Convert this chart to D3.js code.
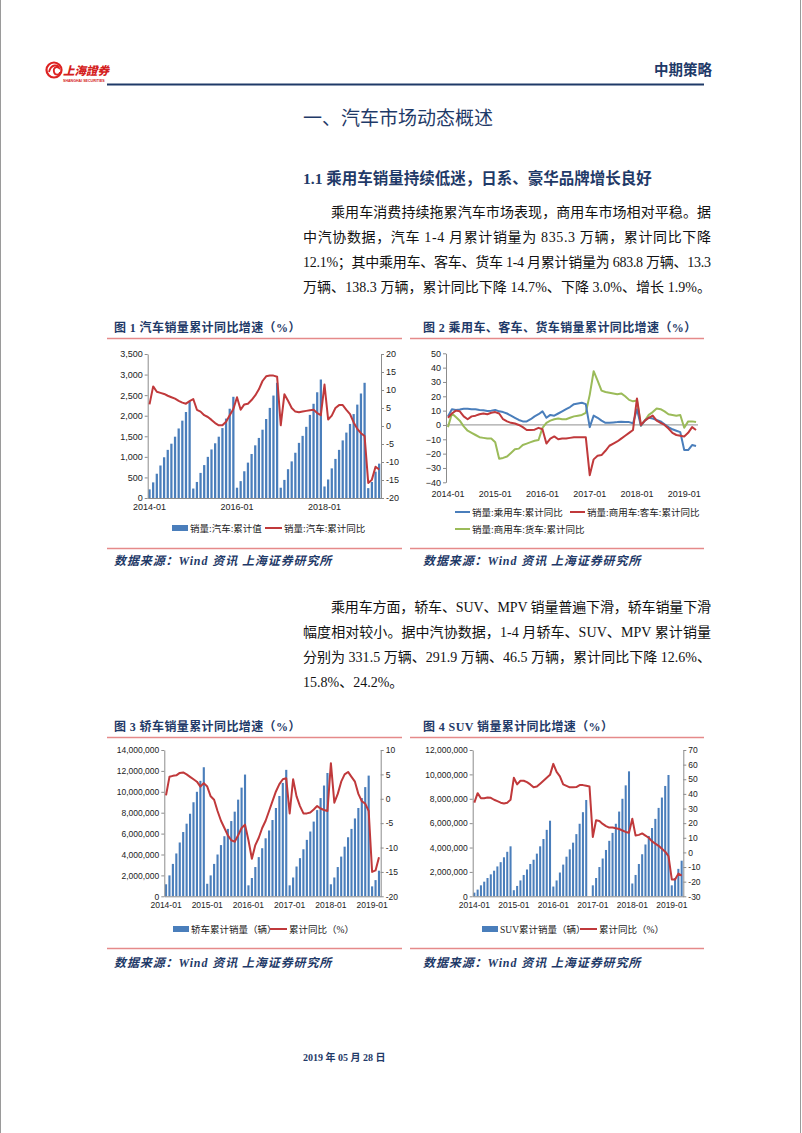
<!DOCTYPE html>
<html><head><meta charset="utf-8">
<script src="https://cdn.jsdelivr.net/npm/d3@7"></script>
<style>
html,body{margin:0;padding:0;background:#fff;}
svg{display:block;}
</style></head>
<body>
<svg id="page" width="802" height="1133"></svg>
<script>
// ---------- categories ----------
function monthList(n){const a=[];for(let i=0;i<n;i++){const y=2014+Math.floor(i/12),m=i%12+1;a.push(y+"-"+(m<10?"0":"")+m);}return a;}
const months64 = monthList(64); // 2014-01 .. 2019-04
const months63 = monthList(63); // 2014-01 .. 2019-03

// ---------- Chart 1: 汽车 ----------
const autoCum = [210,380,590,790,990,1170,1320,1490,1690,1880,2090,2350,
 230,390,610,800,1000,1180,1330,1490,1700,1930,2170,2460,
 250,410,650,860,1070,1280,1460,1660,1920,2190,2490,2800,
 250,440,700,890,1100,1340,1510,1730,2020,2290,2570,2880,
 280,450,720,950,1170,1400,1590,1800,2040,2270,2540,2800,
 240,390,640,835];
const autoYoy = [6,11,9.5,9.2,8.9,8.4,8.0,7.6,7.0,6.5,6.2,6.9,
 7.5,4.5,4.0,3.0,2.5,1.7,0.8,0.2,0.2,1.2,3.0,4.7,
 8.0,4.5,6.0,6.2,7.2,8.5,10.2,12.5,13.8,14.0,14.0,13.7,
 0.2,8.8,7.0,5.0,4.0,3.8,4.0,4.2,4.4,4.5,3.6,3.0,
 11.5,1.8,2.9,5.0,5.8,5.8,4.5,3.3,1.0,-0.8,-2.0,-2.8,
 -15.8,-14.9,-11.3,-12.1];
const c1LeftTicks = [0,500,1000,1500,2000,2500,3000,3500];
const c1RightTicks = [-20,-15,-10,-5,0,5,10,15,20];
const c1XLabels = ["2014-01","2016-01","2018-01"];
const c1Legend = ["销量:汽车:累计值","销量:汽车:累计同比"];

// ---------- Chart 2: 乘用车/客车/货车 ----------
const passYoy = [6,11,10.5,10.8,11.3,11.3,11,11,10.5,10.2,9.8,10,
 10.5,9.5,9,8,6.5,5,3.5,2.5,2.5,4,6,7.5,
 9.5,5,7,6.5,8,9.5,11,12.5,14.5,15,15.5,14.5,
 -1.5,6.5,5,3,1.5,1.5,1.8,2,2.3,2,2,1.2,
 11,-0.5,3,5,4.5,3.5,2.5,0.5,-1.5,-3,-4,-5,
 -17.5,-17.5,-14,-14.7];
const busYoy = [5,8,10,9.5,6,4,6,6.5,7.5,8,7.5,8.5,
 9,8,4,2.5,1.5,1,0,-1.5,-3.5,-3.5,-3.3,-2,
 -3,-13,-9.5,-8,-10,-9.5,-9.5,-9,-8.5,-8.5,-8.5,-8.5,
 -35,-24,-21.5,-21,-18,-14.5,-13,-11.5,-9.5,-7.5,-5.5,-3.5,
 18.5,0,3,5,6.5,3,1.5,0,-2.5,-5.5,-7,-7.5,
 -8,-5.5,-1.5,-3.5];
const truckYoy = [-1.5,8,5.5,3,-1,-4,-5.5,-7,-8.5,-9,-9.5,-9.5,
 -12,-23.5,-23,-22,-19.5,-17,-16.5,-14,-13,-12,-11,-10.5,
 -2,1.5,3,4,4.5,4,4,5,6,6.5,7,8.5,
 21,37.5,31,24,23,22.5,22,21.5,22,20,17.5,16.5,
 17,-0.5,3,7,9,11.5,11,9.5,7.5,7,6.5,7,
 -2,2.5,2.5,2];
const c2Ticks = [-40,-30,-20,-10,0,10,20,30,40,50];
const c2XLabels = ["2014-01","2015-01","2016-01","2017-01","2018-01","2019-01"];
const c2Legend = ["销量:乘用车:累计同比","销量:商用车:客车:累计同比","销量:商用车:货车:累计同比"];

// ---------- Chart 3: 轿车 ----------
const sedanCum = [1150000,2000000,3100000,4100000,5150000,6150000,6950000,7900000,9000000,10000000,11050000,12350000,
 1200000,2000000,3100000,4000000,4900000,5750000,6450000,7200000,8100000,9250000,10400000,11650000,
 1050000,1750000,2800000,3750000,4600000,5550000,6300000,7300000,8450000,9600000,10850000,12100000,
 1050000,1800000,2850000,3650000,4500000,5400000,6200000,7150000,8250000,9400000,10600000,11800000,
 1150000,1800000,2800000,3800000,4750000,5650000,6450000,7450000,8450000,9400000,10450000,11550000,
 950000,1550000,2450000];
const sedanYoy = [0.7,4.5,4.7,4.8,5.3,5.4,5.0,4.5,4.0,3.5,2.5,3.2,
 2.5,0.5,-0.2,-2.5,-4.5,-6.0,-7.5,-8.5,-8.8,-7.5,-6.0,-5.3,
 -8.5,-12.3,-9.5,-8.0,-6.0,-4.5,-2.5,-0.5,1.5,3.0,4.0,4.2,
 -3.0,4.0,0.5,-1.5,-3.0,-3.0,-2.8,-2.2,-1.5,-2.0,-2.3,-2.5,
 7.3,-0.8,1.0,3.5,5.0,5.5,4.5,3.5,1.0,-0.5,-1.0,-2.5,
 -15.0,-14.7,-12.0];
const c3LeftTicks = [0,2000000,4000000,6000000,8000000,10000000,12000000,14000000];
const c3RightTicks = [-20,-15,-10,-5,0,5,10];
const c3XLabels = ["2014-01","2015-01","2016-01","2017-01","2018-01","2019-01"];
const c3Legend = ["轿车累计销量（辆）","累计同比（%）"];

// ---------- Chart 4: SUV ----------
const suvCum = [300000,550000,900000,1200000,1500000,1800000,2100000,2450000,2800000,3200000,3650000,4100000,
 500000,850000,1300000,1750000,2200000,2650000,3000000,3500000,4100000,4700000,5450000,6200000,
 800000,1300000,1950000,2600000,3250000,3850000,4400000,5100000,5950000,6900000,7900000,null,
 900000,1500000,2400000,3100000,3800000,4550000,5200000,5950000,6950000,8000000,9100000,10250000,
 1050000,1750000,2650000,3450000,4250000,4950000,5600000,6350000,7250000,8100000,9050000,9950000,
 900000,1500000,2250000,2920000];
const suvYoy = [34,40.5,37,37,37.5,37.3,36,35,34,33.5,34,36,
 51,46.5,49,49,48,46.5,44.5,45,47,49,51,53,
 60.5,55,52,46.5,45.5,44.5,44.5,44.7,46,46,45.5,45,
 10.5,22,21.5,19.5,18,17,17,16.5,16,15,14,13.5,
 23,11.5,12,13,11.5,10,7.5,6,4.5,2.5,0.5,-2.5,
 -18.5,-18.5,-14.5,-15.8];
const c4LeftTicks = [0,2000000,4000000,6000000,8000000,10000000,12000000];
const c4RightTicks = [-30,-20,-10,0,10,20,30,40,50,60,70];
const c4XLabels = ["2014-01","2015-01","2016-01","2017-01","2018-01","2019-01"];
const c4Legend = ["SUV累计销量（辆）","累计同比（%）"];

// ---------- page text ----------
const headerRight = "中期策略";
const sectionTitle = "一、汽车市场动态概述";
const subTitle = "1.1 乘用车销量持续低迷，日系、豪华品牌增长良好";
const para1 = ["乘用车消费持续拖累汽车市场表现，商用车市场相对平稳。据",
 "中汽协数据，汽车 1-4 月累计销量为 835.3 万辆，累计同比下降",
 "12.1%；其中乘用车、客车、货车 1-4 月累计销量为 683.8 万辆、13.3",
 "万辆、138.3 万辆，累计同比下降 14.7%、下降 3.0%、增长 1.9%。"];
const para2 = ["乘用车方面，轿车、SUV、MPV 销量普遍下滑，轿车销量下滑",
 "幅度相对较小。据中汽协数据，1-4 月轿车、SUV、MPV 累计销量",
 "分别为 331.5 万辆、291.9 万辆、46.5 万辆，累计同比下降 12.6%、",
 "15.8%、24.2%。"];
const figTitles = ["图 1 汽车销量累计同比增速（%）","图 2 乘用车、客车、货车销量累计同比增速（%）",
 "图 3 轿车销量累计同比增速（%）","图 4 SUV 销量累计同比增速（%）"];
const sourceText = "数据来源：Wind 资讯  上海证券研究所";
const dateText = "2019 年 05 月 28 日";

// ---------- styles ----------
const NAVY = "#1f3a68";
const BAR = "#4a7ebb";
const RED = "#c0393b";
const BLUE = "#4a7ebb";
const GREEN = "#9bbb59";
const AXIS = "#8c8c8c";
const SERIF = "'Liberation Serif','Noto Sans CJK SC',serif";
const SANS = "'Liberation Sans','Noto Sans CJK SC',sans-serif";
const CJK = "'Noto Sans CJK SC',sans-serif";

const svg = d3.select("#page");
svg.append("rect").attr("width",802).attr("height",1133).attr("fill","#fff");
// page border
svg.append("line").attr("x1",0.5).attr("x2",0.5).attr("y1",0).attr("y2",1133).attr("stroke","#9a9a9a");
svg.append("line").attr("x1",800.5).attr("x2",800.5).attr("y1",0).attr("y2",1133).attr("stroke","#9a9a9a");

// ---------- header ----------
const logo = svg.append("g");
logo.append("circle").attr("cx",54).attr("cy",70).attr("r",7.5).attr("fill","none").attr("stroke","#d22").attr("stroke-width",2.2);
logo.append("path").attr("d","M49,72 C51,64 58,64 59,68 C56,66 53,68 54,72 C55,76 60,75 60,72").attr("fill","none").attr("stroke","#d22").attr("stroke-width",1.8);
logo.append("text").attr("x",63).attr("y",75).attr("font-family",CJK).attr("font-weight",900).attr("font-size",11.5)
  .attr("fill","#d42020").attr("font-style","italic").text("上海證券");
logo.append("text").attr("x",63).attr("y",82).attr("font-family",SANS).attr("font-weight",700).attr("font-size",3.6)
  .attr("fill","#d42020").text("SHANGHAI SECURITIES");
svg.append("text").attr("x",712).attr("y",75).attr("text-anchor","end").attr("font-family",CJK).attr("font-weight",700)
  .attr("font-size",14.5).attr("fill",NAVY).text(headerRight);
svg.append("line").attr("x1",107).attr("x2",704).attr("y1",84.5).attr("y2",84.5).attr("stroke",NAVY).attr("stroke-width",2.2);

// titles
svg.append("text").attr("x",303).attr("y",125).attr("font-family",CJK).attr("font-size",19).attr("fill",NAVY).text(sectionTitle);
svg.append("text").attr("x",303).attr("y",184).attr("font-family",SERIF).attr("font-weight",700).attr("font-size",15.5).attr("fill",NAVY).text(subTitle);

function paragraph(lines, y0){
  lines.forEach((t,i)=>{
    const x = i===0 ? 331 : 303;
    const full = i < lines.length-1 || lines===para1;
    const tx = svg.append("text").attr("x",x).attr("y",y0+i*25).attr("font-family",SERIF).attr("font-size",14).attr("fill","#111").text(t);
    if(full) tx.attr("textLength",711-x).attr("lengthAdjust","spacing");
  });
}
paragraph(para1, 217);
paragraph(para2, 612);

// fig frames
function figFrame(x0,x1,tx,yT,yB,title,srcY){
  svg.append("text").attr("x",tx).attr("y",yT-6).attr("font-family",SERIF).attr("font-weight",700).attr("font-size",12)
    .attr("letter-spacing",0.4).attr("fill",NAVY).text(title);
  svg.append("line").attr("x1",x0).attr("x2",x1).attr("y1",yT+0.5).attr("y2",yT+0.5).attr("stroke","#e58a8a").attr("stroke-width",1.3);
  svg.append("line").attr("x1",x0).attr("x2",x1).attr("y1",yB+0.5).attr("y2",yB+0.5).attr("stroke","#e58a8a").attr("stroke-width",1.3);
  svg.append("text").attr("x",tx).attr("y",srcY).attr("font-family",SERIF).attr("font-weight",700).attr("font-style","italic")
    .attr("font-size",12).attr("letter-spacing",0.9).attr("fill",NAVY).text(sourceText);
}
figFrame(107,402,114,338,548,figTitles[0],565);
figFrame(410,704,423,338,548,figTitles[1],565);
figFrame(107,402,114,737,948,figTitles[2],967);
figFrame(410,704,423,737,948,figTitles[3],967);

// ---------- combo chart ----------
function combo(cfg){
  const g = svg.append("g");
  const x = d3.scaleBand().domain(cfg.cats).range([cfg.x0,cfg.x1]).paddingInner(0.38).paddingOuter(0.19);
  const bw = x.bandwidth();
  const yL = d3.scaleLinear().domain(cfg.leftDomain).range([cfg.yB,cfg.yT]);
  const yR = d3.scaleLinear().domain(cfg.rightDomain).range([cfg.yB,cfg.yT]);
  g.selectAll("rect.bar").data(cfg.cats.map((c,i)=>({c,v:cfg.bars[i]})).filter(d=>d.v!=null)).enter().append("rect")
    .attr("x",d=>x(d.c)).attr("width",bw).attr("y",d=>yL(d.v)).attr("height",d=>yL(0)-yL(d.v)).attr("fill",BAR);
  const line = d3.line().x((d,i)=>x(cfg.cats[i])+bw/2).y(d=>yR(d));
  // axes
  const la = g.append("g").attr("transform",`translate(${cfg.x0},0)`)
    .call(d3.axisLeft(yL).tickValues(cfg.leftTicks).tickSize(3).tickSizeOuter(0).tickFormat(d3.format(",")));
  const ra = g.append("g").attr("transform",`translate(${cfg.x1},0)`)
    .call(d3.axisRight(yR).tickValues(cfg.rightTicks).tickSize(3).tickSizeOuter(0).tickFormat(d=>String(d)));
  const ba = g.append("g").attr("transform",`translate(0,${cfg.yB})`)
    .call(d3.axisBottom(x).tickValues(cfg.xLabels).tickSize(0).tickSizeOuter(0));
  [la,ra,ba].forEach(a=>{
    a.select(".domain").attr("stroke",AXIS);
    a.selectAll(".tick line").attr("stroke",AXIS);
    a.selectAll("text").attr("font-family",SANS).attr("font-size",cfg.fs).attr("fill","#222");
  });
  la.selectAll("text").attr("x",-5);
  ra.selectAll("text").attr("x",5);
  ba.selectAll("text").attr("dy",0).attr("y",cfg.labelDy);
  g.append("path").datum(cfg.line).attr("d",line).attr("fill","none").attr("stroke",RED).attr("stroke-width",2).attr("stroke-linejoin","round");
  // legend
  const L = cfg.legend;
  g.append("rect").attr("x",L.bx).attr("y",L.y-3).attr("width",16).attr("height",6).attr("fill",BAR);
  g.append("text").attr("x",L.bx+18).attr("y",L.y+3.5).attr("font-family",SERIF).attr("font-size",L.fs).attr("fill","#222").text(cfg.legendText[0]);
  g.append("line").attr("x1",L.lx).attr("x2",L.lx+17).attr("y1",L.y).attr("y2",L.y).attr("stroke",RED).attr("stroke-width",2);
  g.append("text").attr("x",L.lx+19).attr("y",L.y+3.5).attr("font-family",SERIF).attr("font-size",L.fs).attr("fill","#222").text(cfg.legendText[1]);
}

combo({cats:months64,bars:autoCum,line:autoYoy,x0:147.7,x1:381,yT:354,yB:498,
  leftDomain:[0,3500],rightDomain:[-20,20],leftTicks:c1LeftTicks,rightTicks:c1RightTicks,
  xLabels:c1XLabels,fs:9,labelDy:12,legendText:c1Legend,legend:{bx:172,lx:265,y:528,fs:9.5}});
combo({cats:months63,bars:sedanCum,line:sedanYoy,x0:164.3,x1:380.7,yT:750,yB:896.3,
  leftDomain:[0,14000000],rightDomain:[-20,10],leftTicks:c3LeftTicks,rightTicks:c3RightTicks,
  xLabels:c3XLabels,fs:8.5,labelDy:12,legendText:c3Legend,legend:{bx:173,lx:270,y:929,fs:9.5}});
combo({cats:months64,bars:suvCum,line:suvYoy,x0:472.7,x1:683.3,yT:750,yB:896.3,
  leftDomain:[0,12000000],rightDomain:[-30,70],leftTicks:c4LeftTicks,rightTicks:c4RightTicks,
  xLabels:c4XLabels,fs:8.5,labelDy:12,legendText:c4Legend,legend:{bx:482,lx:580,y:929,fs:9.5}});

// ---------- chart 2 ----------
(function(){
  const g = svg.append("g");
  const x0=446,x1=698,yT=353.3,yB=482.3;
  const x = d3.scaleBand().domain(months64).range([x0,x1]);
  const bw = x.bandwidth();
  const y = d3.scaleLinear().domain([-40,50]).range([yB,yT]);
  g.append("line").attr("x1",x0).attr("x2",x1).attr("y1",y(0)).attr("y2",y(0)).attr("stroke","#a6a6a6").attr("stroke-width",1.3);
  const la = g.append("g").attr("transform",`translate(${x0},0)`)
    .call(d3.axisLeft(y).tickValues(c2Ticks).tickSize(3).tickSizeOuter(0));
  la.select(".domain").attr("stroke",AXIS);
  la.selectAll(".tick line").attr("stroke",AXIS);
  la.selectAll("text").attr("x",-5).attr("font-family",SANS).attr("font-size",9).attr("fill","#222");
  const ba = g.append("g").attr("transform",`translate(0,${yB})`)
    .call(d3.axisBottom(x).tickValues(c2XLabels).tickSize(0));
  ba.select(".domain").remove();
  ba.selectAll("text").attr("dy",0).attr("y",15).attr("font-family",SANS).attr("font-size",9).attr("fill","#222");
  const line = d3.line().x((d,i)=>x(months64[i])+bw/2).y(d=>y(d)).curve(d3.curveLinear);
  [[truckYoy,GREEN],[passYoy,BLUE],[busYoy,RED]].forEach(([s,c])=>{
    g.append("path").datum(s).attr("d",line).attr("fill","none").attr("stroke",c).attr("stroke-width",2).attr("stroke-linejoin","round");
  });
  const lg = [[455,512,BLUE,c2Legend[0]],[570,512,RED,c2Legend[1]],[455,529,GREEN,c2Legend[2]]];
  lg.forEach(([lx,ly,c,t])=>{
    g.append("line").attr("x1",lx).attr("x2",lx+15).attr("y1",ly).attr("y2",ly).attr("stroke",c).attr("stroke-width",2);
    g.append("text").attr("x",lx+17).attr("y",ly+3.5).attr("font-family",SERIF).attr("font-size",9.5).attr("fill","#222").text(t);
  });
})();

svg.append("text").attr("x",303).attr("y",1061).attr("font-family",SERIF).attr("font-weight",700).attr("font-size",10).attr("fill",NAVY).text(dateText);
</script>
</body></html>
